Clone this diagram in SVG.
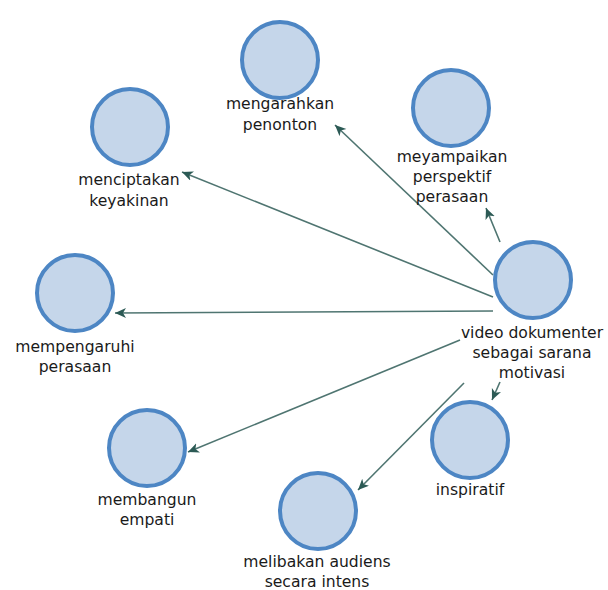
<svg xmlns="http://www.w3.org/2000/svg" width="608" height="590" viewBox="0 0 608 590">
<style>
.node circle{fill:#c5d6ea;stroke:#4d86c4;stroke-width:4}
.node text{font-family:"DejaVu Sans",Verdana,sans-serif;font-size:15.6px;fill:#1a1a1a;text-anchor:middle}
.edge{stroke:#4f7571;stroke-width:1.6;fill:none;marker-end:url(#arr)}
</style>
<defs>
<marker id="arr" markerUnits="userSpaceOnUse" markerWidth="13" markerHeight="11" refX="11" refY="5" orient="auto">
<path d="M0,0 L11,5 L0,10 L3,5 z" fill="#2c5a55"/>
</marker>
</defs>
<rect width="608" height="590" fill="#ffffff"/>
<g id="connectors">
<line class="edge" x1="493" y1="275" x2="335" y2="125"/>
<line class="edge" x1="500" y1="242" x2="486" y2="208"/>
<line class="edge" x1="493" y1="297" x2="182" y2="172"/>
<line class="edge" x1="493" y1="311" x2="115" y2="313"/>
<line class="edge" x1="460" y1="340" x2="188" y2="452"/>
<line class="edge" x1="464" y1="383" x2="358" y2="490"/>
<line class="edge" x1="500" y1="382" x2="492" y2="400"/>
</g>
<g id="center" class="node">
<circle cx="533" cy="280" r="38"/>
<text x="532" y="338">video dokumenter</text>
<text x="532" y="358">sebagai sarana</text>
<text x="532" y="378">motivasi</text>
</g>
<g id="mengarahkan" class="node">
<circle cx="280" cy="60" r="38"/>
<text x="280" y="109">mengarahkan</text>
<text x="280" y="130">penonton</text>
</g>
<g id="meyampaikan" class="node">
<circle cx="451" cy="108" r="38"/>
<text x="452" y="162">meyampaikan</text>
<text x="452" y="182">perspektif</text>
<text x="452" y="202">perasaan</text>
</g>
<g id="menciptakan" class="node">
<circle cx="130" cy="127" r="38"/>
<text x="129" y="185">menciptakan</text>
<text x="129" y="206">keyakinan</text>
</g>
<g id="mempengaruhi" class="node">
<circle cx="75" cy="293" r="38"/>
<text x="75" y="352">mempengaruhi</text>
<text x="75" y="372">perasaan</text>
</g>
<g id="membangun" class="node">
<circle cx="147" cy="448" r="38"/>
<text x="147" y="505">membangun</text>
<text x="147" y="525">empati</text>
</g>
<g id="melibakan" class="node">
<circle cx="318" cy="511" r="38"/>
<text x="317" y="567">melibakan audiens</text>
<text x="317" y="587">secara intens</text>
</g>
<g id="inspiratif" class="node">
<circle cx="470" cy="440" r="38"/>
<text x="470" y="495">inspiratif</text>
</g>
</svg>
